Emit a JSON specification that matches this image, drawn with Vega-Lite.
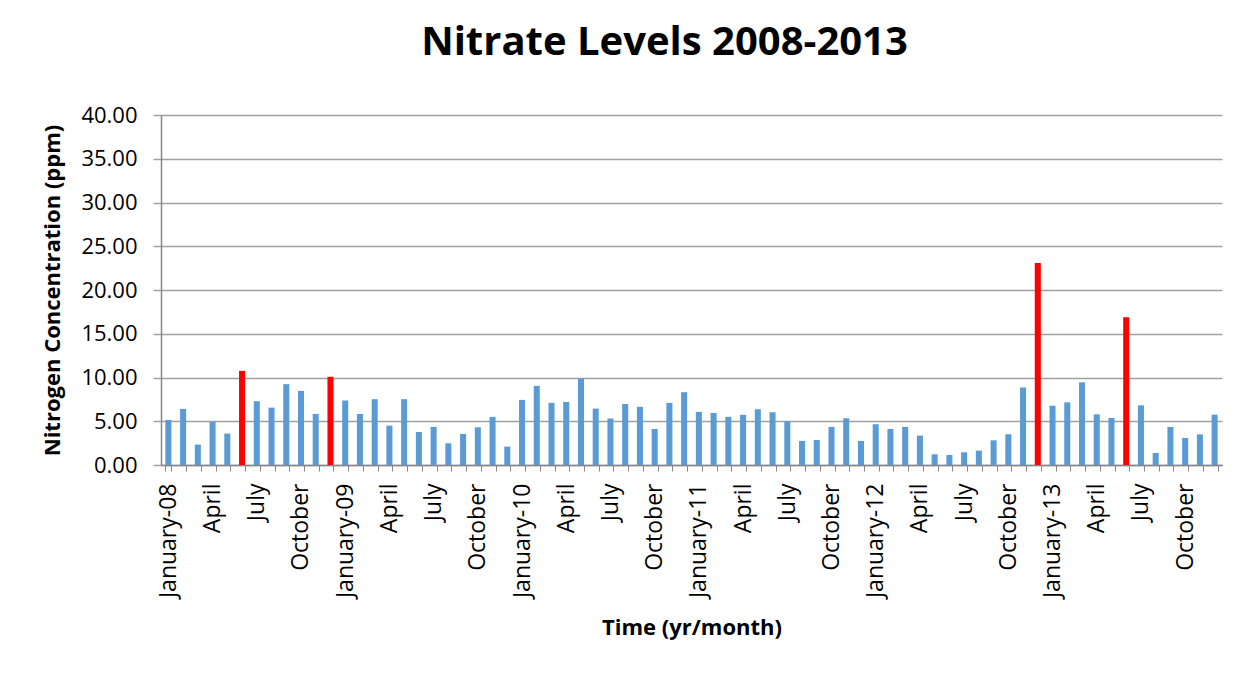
{
  "$schema": "https://vega.github.io/schema/vega-lite/v6.json",
  "autosize": {"type": "none"},
  "padding": {"left": 161, "top": 115, "right": 28, "bottom": 210},
  "width": 1061,
  "height": 350,
  "background": "white",
  "title": {
    "text": "Nitrate Levels 2008-2013",
    "font": "Open Sans",
    "fontSize": 40,
    "fontWeight": "bold",
    "color": "#000000",
    "anchor": "middle",
    "dx": -27,
    "offset": 41
  },
  "data": {
    "values": [
      {"month": "2008-01", "value": 5.15},
      {"month": "2008-02", "value": 6.41},
      {"month": "2008-03", "value": 2.33},
      {"month": "2008-04", "value": 4.92},
      {"month": "2008-05", "value": 3.59},
      {"month": "2008-06", "value": 10.76},
      {"month": "2008-07", "value": 7.29},
      {"month": "2008-08", "value": 6.56},
      {"month": "2008-09", "value": 9.24},
      {"month": "2008-10", "value": 8.47},
      {"month": "2008-11", "value": 5.84},
      {"month": "2008-12", "value": 10.08},
      {"month": "2009-01", "value": 7.37},
      {"month": "2009-02", "value": 5.84},
      {"month": "2009-03", "value": 7.52},
      {"month": "2009-04", "value": 4.50},
      {"month": "2009-05", "value": 7.52},
      {"month": "2009-06", "value": 3.78},
      {"month": "2009-07", "value": 4.35},
      {"month": "2009-08", "value": 2.48},
      {"month": "2009-09", "value": 3.55},
      {"month": "2009-10", "value": 4.31},
      {"month": "2009-11", "value": 5.50},
      {"month": "2009-12", "value": 2.10},
      {"month": "2010-01", "value": 7.44},
      {"month": "2010-02", "value": 9.05},
      {"month": "2010-03", "value": 7.10},
      {"month": "2010-04", "value": 7.21},
      {"month": "2010-05", "value": 9.89},
      {"month": "2010-06", "value": 6.45},
      {"month": "2010-07", "value": 5.31},
      {"month": "2010-08", "value": 6.98},
      {"month": "2010-09", "value": 6.64},
      {"month": "2010-10", "value": 4.12},
      {"month": "2010-11", "value": 7.10},
      {"month": "2010-12", "value": 8.32},
      {"month": "2011-01", "value": 6.07},
      {"month": "2011-02", "value": 5.95},
      {"month": "2011-03", "value": 5.50},
      {"month": "2011-04", "value": 5.73},
      {"month": "2011-05", "value": 6.37},
      {"month": "2011-06", "value": 6.03},
      {"month": "2011-07", "value": 5.00},
      {"month": "2011-08", "value": 2.75},
      {"month": "2011-09", "value": 2.86},
      {"month": "2011-10", "value": 4.35},
      {"month": "2011-11", "value": 5.34},
      {"month": "2011-12", "value": 2.75},
      {"month": "2012-01", "value": 4.66},
      {"month": "2012-02", "value": 4.12},
      {"month": "2012-03", "value": 4.35},
      {"month": "2012-04", "value": 3.36},
      {"month": "2012-05", "value": 1.22},
      {"month": "2012-06", "value": 1.15},
      {"month": "2012-07", "value": 1.45},
      {"month": "2012-08", "value": 1.64},
      {"month": "2012-09", "value": 2.82},
      {"month": "2012-10", "value": 3.51},
      {"month": "2012-11", "value": 8.86},
      {"month": "2012-12", "value": 23.09},
      {"month": "2013-01", "value": 6.78},
      {"month": "2013-02", "value": 7.16},
      {"month": "2013-03", "value": 9.45},
      {"month": "2013-04", "value": 5.79},
      {"month": "2013-05", "value": 5.37},
      {"month": "2013-06", "value": 16.88},
      {"month": "2013-07", "value": 6.82},
      {"month": "2013-08", "value": 1.37},
      {"month": "2013-09", "value": 4.34},
      {"month": "2013-10", "value": 3.09},
      {"month": "2013-11", "value": 3.50},
      {"month": "2013-12", "value": 5.75}
    ]
  },
  "mark": {"type": "bar"},
  "encoding": {
    "x": {
      "field": "month",
      "type": "ordinal",
      "sort": null,
      "scale": {"paddingInner": 0.59, "paddingOuter": 0.295},
      "axis": {
        "title": "Time (yr/month)",
        "titleFont": "Open Sans",
        "titleFontSize": 22,
        "titleFontWeight": "bold",
        "titleColor": "#000000",
        "titlePadding": 20,
        "labelFont": "Open Sans",
        "labelFontSize": 23,
        "labelColor": "#000000",
        "labelAngle": -90,
        "labelAlign": "right",
        "labelBaseline": "middle",
        "labelPadding": 12,
        "labelOverlap": false,
        "labelExpr": "substring(datum.value,5,7)=='01' ? 'January-' + substring(datum.value,2,4) : substring(datum.value,5,7)=='04' ? 'April' : substring(datum.value,5,7)=='07' ? 'July' : substring(datum.value,5,7)=='10' ? 'October' : ''",
        "tickBand": "extent",
        "tickSize": 6,
        "tickColor": "#868686",
        "tickWidth": 1,
        "domainColor": "#868686",
        "domainWidth": 1.5,
        "grid": false
      }
    },
    "y": {
      "field": "value",
      "type": "quantitative",
      "scale": {"domain": [0, 40], "nice": false},
      "axis": {
        "title": "Nitrogen Concentration (ppm)",
        "titleFont": "Open Sans",
        "titleFontSize": 22,
        "titleFontWeight": "bold",
        "titleColor": "#000000",
        "titlePadding": 16,
        "values": [0, 5, 10, 15, 20, 25, 30, 35, 40],
        "format": ".2f",
        "labelFont": "Open Sans",
        "labelFontSize": 22,
        "labelColor": "#000000",
        "labelPadding": 16,
        "tickSize": 8,
        "tickColor": "#a0a0a0",
        "tickWidth": 1.5,
        "domainColor": "#868686",
        "domainWidth": 1.5,
        "grid": true,
        "gridColor": "#a0a0a0",
        "gridWidth": 1.5
      }
    },
    "color": {
      "condition": {"test": "datum.value > 10", "value": "#ff0000"},
      "value": "#5b9bd5"
    }
  },
  "config": {
    "view": {"stroke": null}
  }
}
